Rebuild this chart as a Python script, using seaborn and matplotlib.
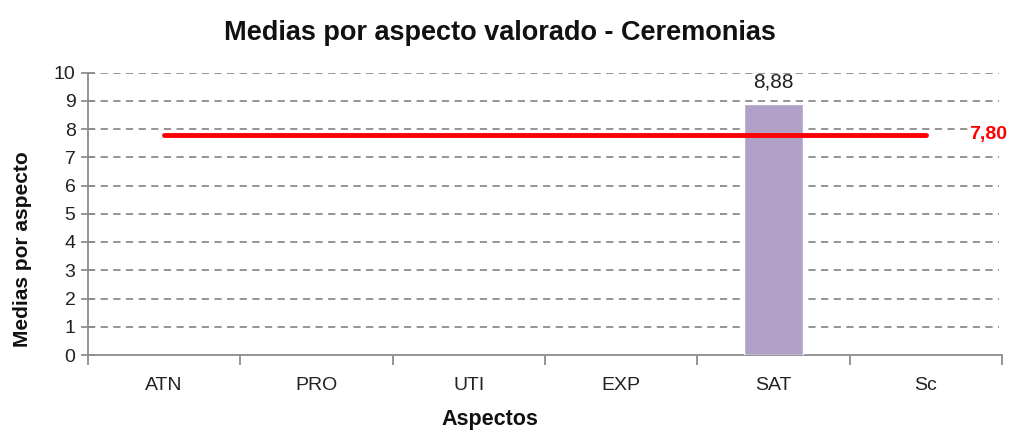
import matplotlib
matplotlib.use("Agg")
import matplotlib.pyplot as plt
import seaborn as sns
import numpy as np
import pandas as pd

categories = ["ATN", "PRO", "UTI", "EXP", "SAT", "Sc"]
values = [np.nan, np.nan, np.nan, np.nan, 8.88, np.nan]
mean_line = 7.80
title = "Medias por aspecto valorado - Ceremonias"
ylabel = "Medias por aspecto"
xlabel = "Aspectos"

sns.set_theme(style="white")
plt.rcParams['font.family'] = ['Liberation Sans', 'DejaVu Sans']

df = pd.DataFrame({"cat": categories, "val": values})

W, H = 1013, 432
fig = plt.figure(figsize=(W/100, H/100), dpi=100)
ax = fig.add_axes([88/W, 1-355/H, (1002-88)/W, (355-72.5)/H])

sns.barplot(data=df, x="cat", y="val", order=categories, color="#B1A0C7",
            saturation=1, width=0.39, ax=ax, zorder=3)

ax.set_ylim(0, 10)
ax.set_xlim(-0.5, len(categories)-0.5)
ax.set_yticks(range(0, 11))
for y in range(1, 11):
    ax.plot([-0.5, 5.48], [y, y], color="#8c8c8c", lw=1.3, ls=(0, (4, 3)), zorder=1)

ax.plot([0, len(categories)-1], [mean_line, mean_line], color="#FF0000", lw=3.5, zorder=4)
ax.text(5.41, mean_line, f"{mean_line:.2f}".replace(".", ","), color="#FF0000",
        fontweight="bold", fontsize=14, va="center", ha="center", zorder=5,
        bbox=dict(facecolor="white", edgecolor="none", pad=0.5))

for i, v in enumerate(values):
    if not np.isnan(v):
        ax.text(i, v + 0.45, f"{v:.2f}".replace(".", ","), ha="center", va="bottom",
                fontsize=15, color="#222222")

for s in ["top", "right"]:
    ax.spines[s].set_visible(False)
for s in ["left", "bottom"]:
    ax.spines[s].set_color("#8c8c8c")
    ax.spines[s].set_linewidth(1.3)

ax.set_xticks(np.arange(len(categories)))
ax.set_xticklabels(categories)
ax.set_xticks(np.arange(-0.5, len(categories)), minor=True)
ax.tick_params(axis="x", which="major", length=0, pad=16, labelsize=14, labelcolor="#222222")
ax.tick_params(axis="x", which="minor", length=7, width=1.3, color="#8c8c8c", direction="out", bottom=True)
ax.tick_params(axis="y", which="major", length=10, width=1.3, color="#8c8c8c", direction="inout",
               labelsize=14, labelcolor="#222222", pad=4, left=True)

ax.set_xlabel("")
ax.set_ylabel("")
fig.text(490/W, 1-420/H, xlabel, fontsize=15.5, fontweight="bold", ha="center", va="center", color="#111111")
fig.text(22/W, 1-249/H, ylabel, fontsize=15, fontweight="bold", ha="center", va="center",
         rotation=90, color="#111111")
fig.text(500/W, 1-33/H, title, fontsize=19.5, fontweight="bold", ha="center", va="center", color="#111111")

fig.savefig("out.png", dpi=100)
